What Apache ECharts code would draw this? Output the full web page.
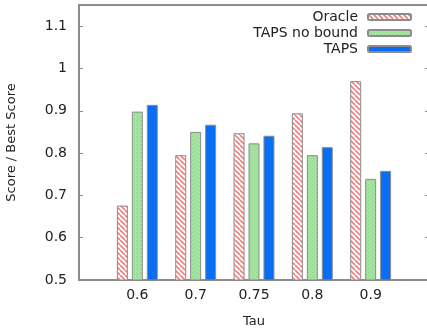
<!DOCTYPE html>
<html>
<head>
<meta charset="utf-8">
<script src="https://cdn.jsdelivr.net/npm/echarts@6/dist/echarts.min.js"></script>
<style>html,body{margin:0;padding:0;background:#fff;}#c{width:427px;height:329px;}</style>
</head>
<body>
<div id="c"></div>
<script>
// ---- data ----
var tauLabels = ['0.6', '0.7', '0.75', '0.8', '0.9'];
var oracle = [0.676, 0.795, 0.847, 0.894, 0.970];
var tapsNoBound = [0.898, 0.850, 0.823, 0.795, 0.739];
var taps = [0.914, 0.867, 0.841, 0.814, 0.758];
var yTicks = ['0.5', '0.6', '0.7', '0.8', '0.9', '1', '1.1'];

// ---- patterns ----
function hatch() {
  var c = document.createElement('canvas');
  c.width = 5; c.height = 5;
  var g = c.getContext('2d');
  g.fillStyle = '#ffffff'; g.fillRect(0, 0, 5, 5);
  g.strokeStyle = '#f07f7f'; g.lineWidth = 1.6;
  for (var k = -5; k <= 10; k += 5) {
    g.beginPath(); g.moveTo(k, 0); g.lineTo(k + 5, 5); g.stroke();
  }
  return c;
}
function dots() {
  var c = document.createElement('canvas');
  c.width = 4; c.height = 4;
  var g = c.getContext('2d');
  g.fillStyle = '#a6e3a0'; g.fillRect(0, 0, 4, 4);
  g.fillStyle = '#8ccf88'; g.fillRect(0, 0, 1, 1); g.fillRect(2, 2, 1, 1);
  return c;
}

function pts(arr) { return arr.map(function (v, i) { return [i, v]; }); }

var font = 'DejaVu Sans';
var chart = echarts.init(document.getElementById('c'), null, {renderer: 'canvas'});
var border = '#8c8c8c';
chart.setOption({
  animation: false,
  backgroundColor: '#ffffff',
  grid: {left: 79, top: 5, width: 350, height: 275, show: true, borderColor: border, borderWidth: 2,
         containLabel: false, outerBoundsMode: 'none'},
  legend: {
    orient: 'vertical', right: 10, top: 5, align: 'right', itemWidth: 43, itemHeight: 6, itemGap: 2,
    textStyle: {fontFamily: font, fontSize: 14, color: '#222', padding: [0, 5, 0, 0]},
    data: ['Oracle', 'TAPS no bound', 'TAPS']
  },
  xAxis: {
    type: 'value', min: -1, max: 5, interval: 1,
    name: 'Tau', nameLocation: 'middle', nameGap: 35,
    nameTextStyle: {fontFamily: font, fontSize: 13, color: '#222'},
    axisLine: {show: false, onZero: false}, axisTick: {show: false}, splitLine: {show: false},
    axisLabel: {
      fontFamily: font, fontSize: 14, color: '#222', margin: 8,
      formatter: function (v) { return tauLabels[Math.round(v)] || ''; }
    }
  },
  yAxis: [{
    type: 'value', min: 0.5, max: 1.15, interval: 0.1,
    name: 'Score / Best Score', nameLocation: 'middle', nameGap: 61,
    nameTextStyle: {fontFamily: font, fontSize: 13, color: '#222'},
    axisLine: {show: false, onZero: false}, splitLine: {show: false},
    axisTick: {show: true, inside: true, length: 4, lineStyle: {color: border, width: 1}},
    axisLabel: {
      fontFamily: font, fontSize: 14, color: '#222', margin: 12,
      formatter: function (v) { var i = Math.round((v - 0.5) * 10); return (Math.abs(v - (0.5 + i / 10)) < 1e-6 && yTicks[i]) ? yTicks[i] : ''; }
    }
  }, {
    type: 'value', min: 0.5, max: 1.15, interval: 0.1, position: 'right',
    axisLine: {show: false, onZero: false}, splitLine: {show: false}, axisLabel: {show: false},
    axisTick: {show: true, inside: true, length: 4, lineStyle: {color: border, width: 1}}
  }],
  series: [
    {name: 'Oracle', type: 'bar', data: pts(oracle), barWidth: 11, barGap: '36%',
     itemStyle: {color: {image: hatch(), repeat: 'repeat'}, borderColor: border, borderWidth: 1}},
    {name: 'TAPS no bound', type: 'bar', data: pts(tapsNoBound), barWidth: 11, barGap: '36%',
     itemStyle: {color: {image: dots(), repeat: 'repeat'}, borderColor: border, borderWidth: 1}},
    {name: 'TAPS', type: 'bar', data: pts(taps), barWidth: 11, barGap: '36%',
     itemStyle: {color: '#0a6ef5', borderColor: border, borderWidth: 1}}
  ]
});
</script>
</body>
</html>
